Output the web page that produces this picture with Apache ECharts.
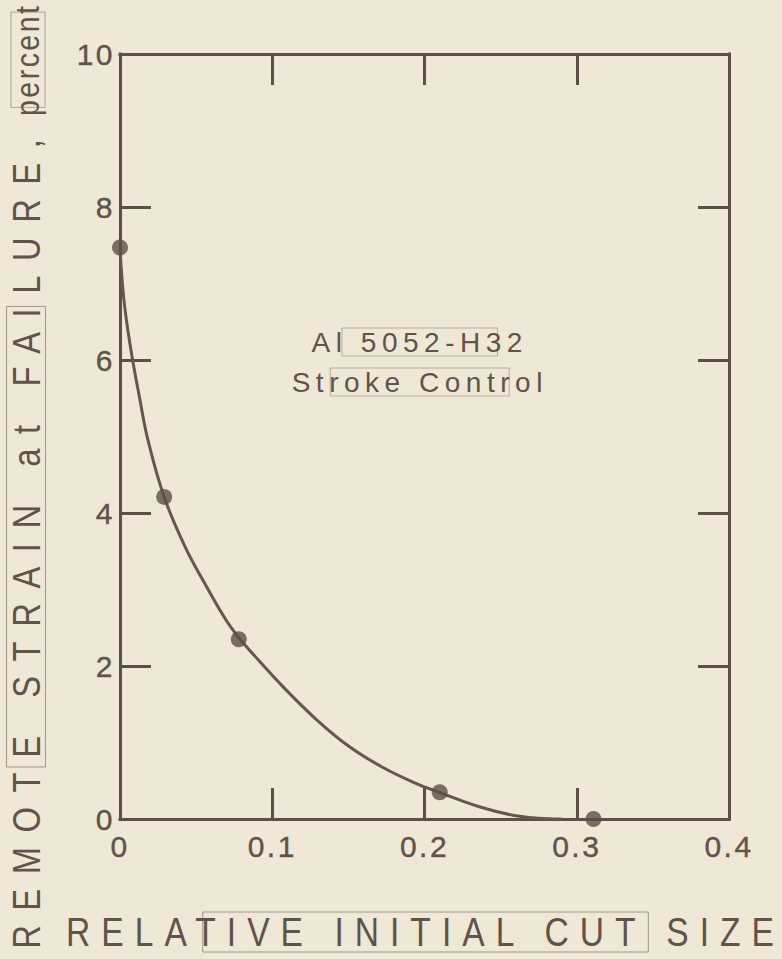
<!DOCTYPE html>
<html>
<head>
<meta charset="utf-8">
<script src="https://cdn.jsdelivr.net/npm/echarts@6/dist/echarts.min.js"></script>
<style>
  html, body { margin: 0; padding: 0; background: #efe8d6; }
  #chart { width: 782px; height: 959px; }
</style>
</head>
<body>
<div id="chart"></div>
<script>
// Measured specimens: relative initial cut size vs. remote strain at failure
const pointX = [0, 0.029, 0.078, 0.21, 0.311];
const pointY = [7.47, 4.21, 2.35, 0.35, 0];

// Fitted trend curve through the specimens
const curveX = [0, 0.0026, 0.0072, 0.0131, 0.0184, 0.029, 0.0427, 0.0545, 0.069, 0.078, 0.0854,
                0.107, 0.129, 0.151, 0.173, 0.195, 0.2095, 0.236, 0.258, 0.275, 0.29];
const curveY = [7.47, 6.78, 6.13, 5.48, 4.95, 4.21, 3.56, 3.12, 2.62, 2.37, 2.2,
                1.73, 1.30, 0.94, 0.67, 0.46, 0.35, 0.16, 0.05, 0.01, 0.0];

// Axis scales and labels
const xMin = 0, xMax = 0.4, xStep = 0.1;
const yMin = 0, yMax = 10, yStep = 2;
const xTitle = 'RELATIVE INITIAL CUT SIZE';
const yTitleMain = 'REMOTE STRAIN at FAILURE,';
const yTitleUnit = 'percent';
const noteLines = ['Al 5052-H32', 'Stroke Control'];

const ink = '#5c4f47';
const curveInk = '#66574e';
const textInk = '#5f534a';
const plainFont = "'Liberation Sans', Arial, sans-serif";
const X_TITLE_SIZE = 40, Y_TITLE_SIZE = 39, UNIT_SIZE = 34, NOTE_SIZE = 28, TICK_SIZE = 30;
const TITLE_SQUEEZE = 0.84;   // condensed look for the axis titles

// Letter spacing needed so a string spans a given width
function spacingFor(text, size, width) {
  const ctx = document.createElement('canvas').getContext('2d');
  ctx.font = size + 'px ' + plainFont;
  const w = ctx.measureText(text).width;
  return Math.max(0, (width - w) / (text.length - 1));
}

const xTitleGap = spacingFor(xTitle, X_TITLE_SIZE, 710 / TITLE_SQUEEZE);
const yTitleGap = spacingFor(yTitleMain, Y_TITLE_SIZE, 810 / TITLE_SQUEEZE);
const unitGap = spacingFor(yTitleUnit, UNIT_SIZE, 110 / TITLE_SQUEEZE);
const noteGap = (spacingFor(noteLines[0], NOTE_SIZE, 216) +
                 spacingFor(noteLines[1], NOTE_SIZE, 244)) / 2;
const tickGap = 2.5;

const css = document.createElement('style');
css.textContent =
  '#chart svg text { letter-spacing: ' + tickGap + 'px; }\n' +
  '#chart svg text[style*="' + X_TITLE_SIZE + 'px"] { letter-spacing: ' + xTitleGap.toFixed(2) + 'px; }\n' +
  '#chart svg text[style*="' + Y_TITLE_SIZE + 'px"] { letter-spacing: ' + yTitleGap.toFixed(2) + 'px; }\n' +
  '#chart svg text[style*="' + UNIT_SIZE + 'px"] { letter-spacing: ' + unitGap.toFixed(2) + 'px; }\n' +
  '#chart svg text[style*="' + NOTE_SIZE + 'px"] { letter-spacing: ' + noteGap.toFixed(2) + 'px; }\n';
document.head.appendChild(css);

const chart = echarts.init(document.getElementById('chart'), null, { renderer: 'svg' });

function valueAxis(min, max, step, position, showLabels) {
  return {
    type: 'value',
    position: position,
    min: min, max: max, interval: step,
    axisLine: { show: true, onZero: false, lineStyle: { color: ink, width: 3, cap: 'square' } },
    axisTick: { show: true, inside: true, length: 31, lineStyle: { color: ink, width: 3 } },
    splitLine: { show: false },
    axisLabel: {
      show: showLabels,
      margin: 5,
      color: textInk,
      fontSize: TICK_SIZE,
      fontFamily: plainFont,
      textBorderColor: textInk,
      textBorderWidth: 0.4,
      formatter: v => (v === 0 ? '0' : (step < 1 ? v.toFixed(1) : String(v)))
    }
  };
}

const xBottom = valueAxis(xMin, xMax, xStep, 'bottom', true);
xBottom.axisLabel.margin = 12;
const xTop = valueAxis(xMin, xMax, xStep, 'top', false);
const yLeft = valueAxis(yMin, yMax, yStep, 'left', true);
const yRight = valueAxis(yMin, yMax, yStep, 'right', false);

function textStyle(text, size, border) {
  return {
    text: text, x: 0, y: 0,
    fill: textInk, fontSize: size, fontFamily: plainFont,
    textBorderColor: textInk, textBorderWidth: border,
    textAlign: 'center', textVerticalAlign: 'middle'
  };
}

chart.setOption({
  animation: false,
  backgroundColor: '#efe8d6',
  grid: { left: 120, right: 53, top: 54, bottom: 140 },
  xAxis: [xBottom, xTop],
  yAxis: [yLeft, yRight],
  graphic: [
    {
      type: 'text',
      x: 420 + xTitleGap * TITLE_SQUEEZE / 2, y: 932,
      scaleX: TITLE_SQUEEZE,
      style: textStyle(xTitle, X_TITLE_SIZE, 0.6)
    },
    {
      type: 'text',
      x: 26, y: 544 - yTitleGap * TITLE_SQUEEZE / 2,
      rotation: Math.PI / 2, scaleX: TITLE_SQUEEZE,
      style: textStyle(yTitleMain, Y_TITLE_SIZE, 0.6)
    },
    {
      type: 'text',
      x: 28, y: 61 - unitGap * TITLE_SQUEEZE / 2,
      rotation: Math.PI / 2, scaleX: TITLE_SQUEEZE,
      style: textStyle(yTitleUnit, UNIT_SIZE, 0.5)
    },
    {
      type: 'text', x: 417 + noteGap / 2, y: 342,
      style: textStyle(noteLines[0], NOTE_SIZE, 0.4)
    },
    {
      type: 'text', x: 417 + noteGap / 2, y: 382,
      style: textStyle(noteLines[1], NOTE_SIZE, 0.4)
    }
  ],
  series: [
    {
      type: 'line',
      data: curveX.map((x, i) => [x, curveY[i]]),
      smooth: 0.4,
      symbol: 'none',
      lineStyle: { color: curveInk, width: 3 },
      z: 2
    },
    {
      type: 'scatter',
      data: pointX.map((x, i) => [x, pointY[i]]),
      symbol: 'circle',
      symbolSize: 16,
      itemStyle: { color: ink },
      z: 3
    }
  ]
});
</script>
</body>
</html>
